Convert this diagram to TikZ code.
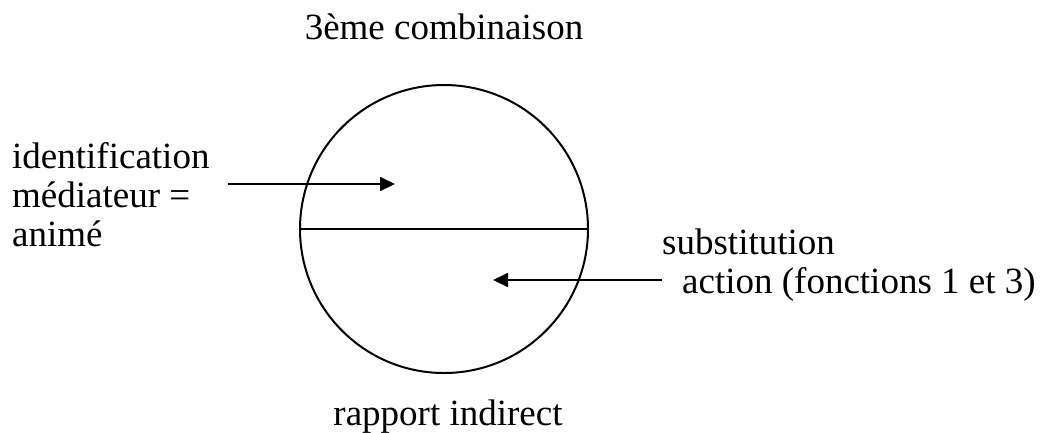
\documentclass[tikz,border=0pt]{standalone}
\usepackage{fontspec}
\setmainfont{Liberation Serif}
\usetikzlibrary{arrows.meta}
\begin{document}
\begin{tikzpicture}[x=1pt,y=-1pt,
  lbl/.style={inner sep=0pt,anchor=base west,font=\fontsize{37}{39}\selectfont},
  lblc/.style={inner sep=0pt,anchor=base,font=\fontsize{37}{39}\selectfont},
  shape line/.style={line width=2pt},
  pointer/.style={line width=2pt,-{Triangle[length=15pt,width=14pt]}}]
\useasboundingbox (0,0) rectangle (1042,432);
% circle and diameter
\node[shape line,draw,circle,minimum size=288pt,inner sep=0pt] (circ) at (444,229) {};
\draw[shape line] (circ.west) -- (circ.east);
% texts
\node[lblc] (title) at (444,39) {3ème combinaison};
\node[lblc] (bottom) at (448,425) {rapport indirect};
\node[lbl] (l1) at (12,168) {identification};
\node[lbl] (l2) at (12,207) {médiateur =};
\node[lbl] (l3) at (12,246) {animé};
\node[lbl] (r1) at (662,254) {substitution};
\node[lbl] (r2) at (682,293) {action (fonctions 1 et 3)};
% arrows
\coordinate (a1s) at (228,184);
\coordinate (a1e) at (395,184);
\coordinate (a2s) at (662,280);
\coordinate (a2e) at (493,280);
\draw[pointer] (a1s) -- (a1e);
\draw[pointer] (a2s) -- (a2e);
\end{tikzpicture}
\end{document}
